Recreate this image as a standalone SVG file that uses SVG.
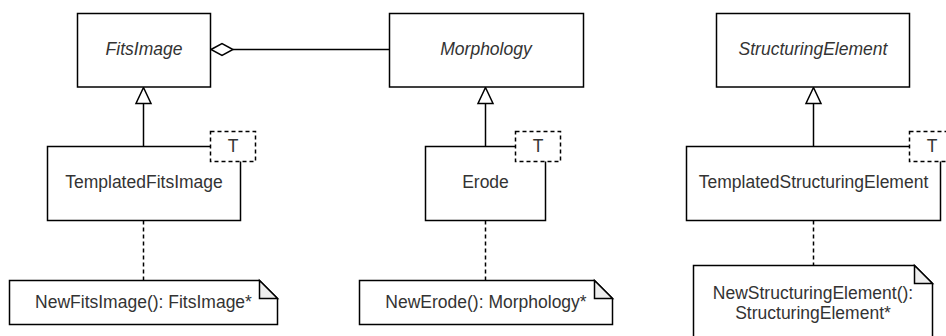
<svg xmlns="http://www.w3.org/2000/svg" width="946" height="336" viewBox="0 0 946 336">
<defs>
<style>
.box{fill:#ffffff;stroke:#000000;stroke-width:1.5}
.tpl{fill:#ffffff;stroke:#000000;stroke-width:1.5;stroke-dasharray:4 3}
.note{fill:#ffffff;stroke:#000000;stroke-width:1.5;stroke-linejoin:miter}
.fold{fill:#eeeeee;stroke:#000000;stroke-width:1.5}
.line{fill:none;stroke:#000000;stroke-width:1.5}
.dash{fill:none;stroke:#000000;stroke-width:1.5;stroke-dasharray:4 3}
.tri{fill:#ffffff;stroke:#000000;stroke-width:1.5}
text{font-family:"Liberation Sans",Arial,sans-serif;font-size:17.5px;fill:#333333;text-anchor:middle}
.it{font-style:italic}
</style>
</defs>
<g id="connectors">
<line class="line" x1="233" y1="49.5" x2="389.5" y2="49.5"/>
<path class="tri" d="M211,49.5 L222,43.5 L233,49.5 L222,55.5 Z"/>
<line class="line" x1="143.5" y1="103.5" x2="143.5" y2="146.5"/>
<path class="tri" d="M143.5,87.5 L151,103.5 L136,103.5 Z"/>
<line class="line" x1="485.5" y1="103.5" x2="485.5" y2="146.5"/>
<path class="tri" d="M485.5,87.5 L493,103.5 L478,103.5 Z"/>
<line class="line" x1="813.5" y1="103.5" x2="813.5" y2="146.5"/>
<path class="tri" d="M813.5,87.5 L821,103.5 L806,103.5 Z"/>
<line class="dash" x1="143.5" y1="220.5" x2="143.5" y2="280.5"/>
<line class="dash" x1="485.5" y1="220.5" x2="485.5" y2="280.5"/>
<line class="dash" x1="813.5" y1="220.5" x2="813.5" y2="265.5"/>
</g>
<g id="FitsImage">
<rect class="box" x="77.5" y="13.5" width="133" height="73.5"/>
<text class="it" x="144" y="54.5">FitsImage</text>
</g>
<g id="Morphology">
<rect class="box" x="389.5" y="13.5" width="194" height="73.5"/>
<text class="it" x="486" y="54.5">Morphology</text>
</g>
<g id="StructuringElement">
<rect class="box" x="716.5" y="13.5" width="193" height="73.5"/>
<text class="it" x="813" y="54.5">StructuringElement</text>
</g>
<g id="TemplatedFitsImage">
<rect class="box" x="47.5" y="146.5" width="193" height="74"/>
<text x="144" y="188">TemplatedFitsImage</text>
<rect class="tpl" x="210.5" y="131.5" width="45" height="30"/>
<text x="233" y="152">T</text>
</g>
<g id="Erode">
<rect class="box" x="425.5" y="146.5" width="120" height="74"/>
<text x="485.5" y="188">Erode</text>
<rect class="tpl" x="515.5" y="131.5" width="45" height="30"/>
<text x="538" y="152">T</text>
</g>
<g id="TemplatedStructuringElement">
<rect class="box" x="686.5" y="146.5" width="254" height="74"/>
<text x="813.5" y="188">TemplatedStructuringElement</text>
<rect class="tpl" x="909.5" y="131.5" width="45" height="30"/>
<text x="932" y="152">T</text>
</g>
<g id="note1">
<path class="note" d="M9.5,280.5 L259.5,280.5 L277.5,298.5 L277.5,324.5 L9.5,324.5 Z"/>
<path class="fold" d="M259.5,280.5 L259.5,298.5 L277.5,298.5 Z"/>
<text x="143.5" y="308">NewFitsImage(): FitsImage*</text>
</g>
<g id="note2">
<path class="note" d="M359.5,280.5 L594.5,280.5 L612.5,298.5 L612.5,324.5 L359.5,324.5 Z"/>
<path class="fold" d="M594.5,280.5 L594.5,298.5 L612.5,298.5 Z"/>
<text x="486" y="308">NewErode(): Morphology*</text>
</g>
<g id="note3">
<path class="note" d="M693.5,265.5 L914.5,265.5 L932.5,283.5 L932.5,345 L693.5,345 Z"/>
<path class="fold" d="M914.5,265.5 L914.5,283.5 L932.5,283.5 Z"/>
<text x="813" y="298.5">NewStructuringElement():</text>
<text x="813" y="319">StructuringElement*</text>
</g>
</svg>
